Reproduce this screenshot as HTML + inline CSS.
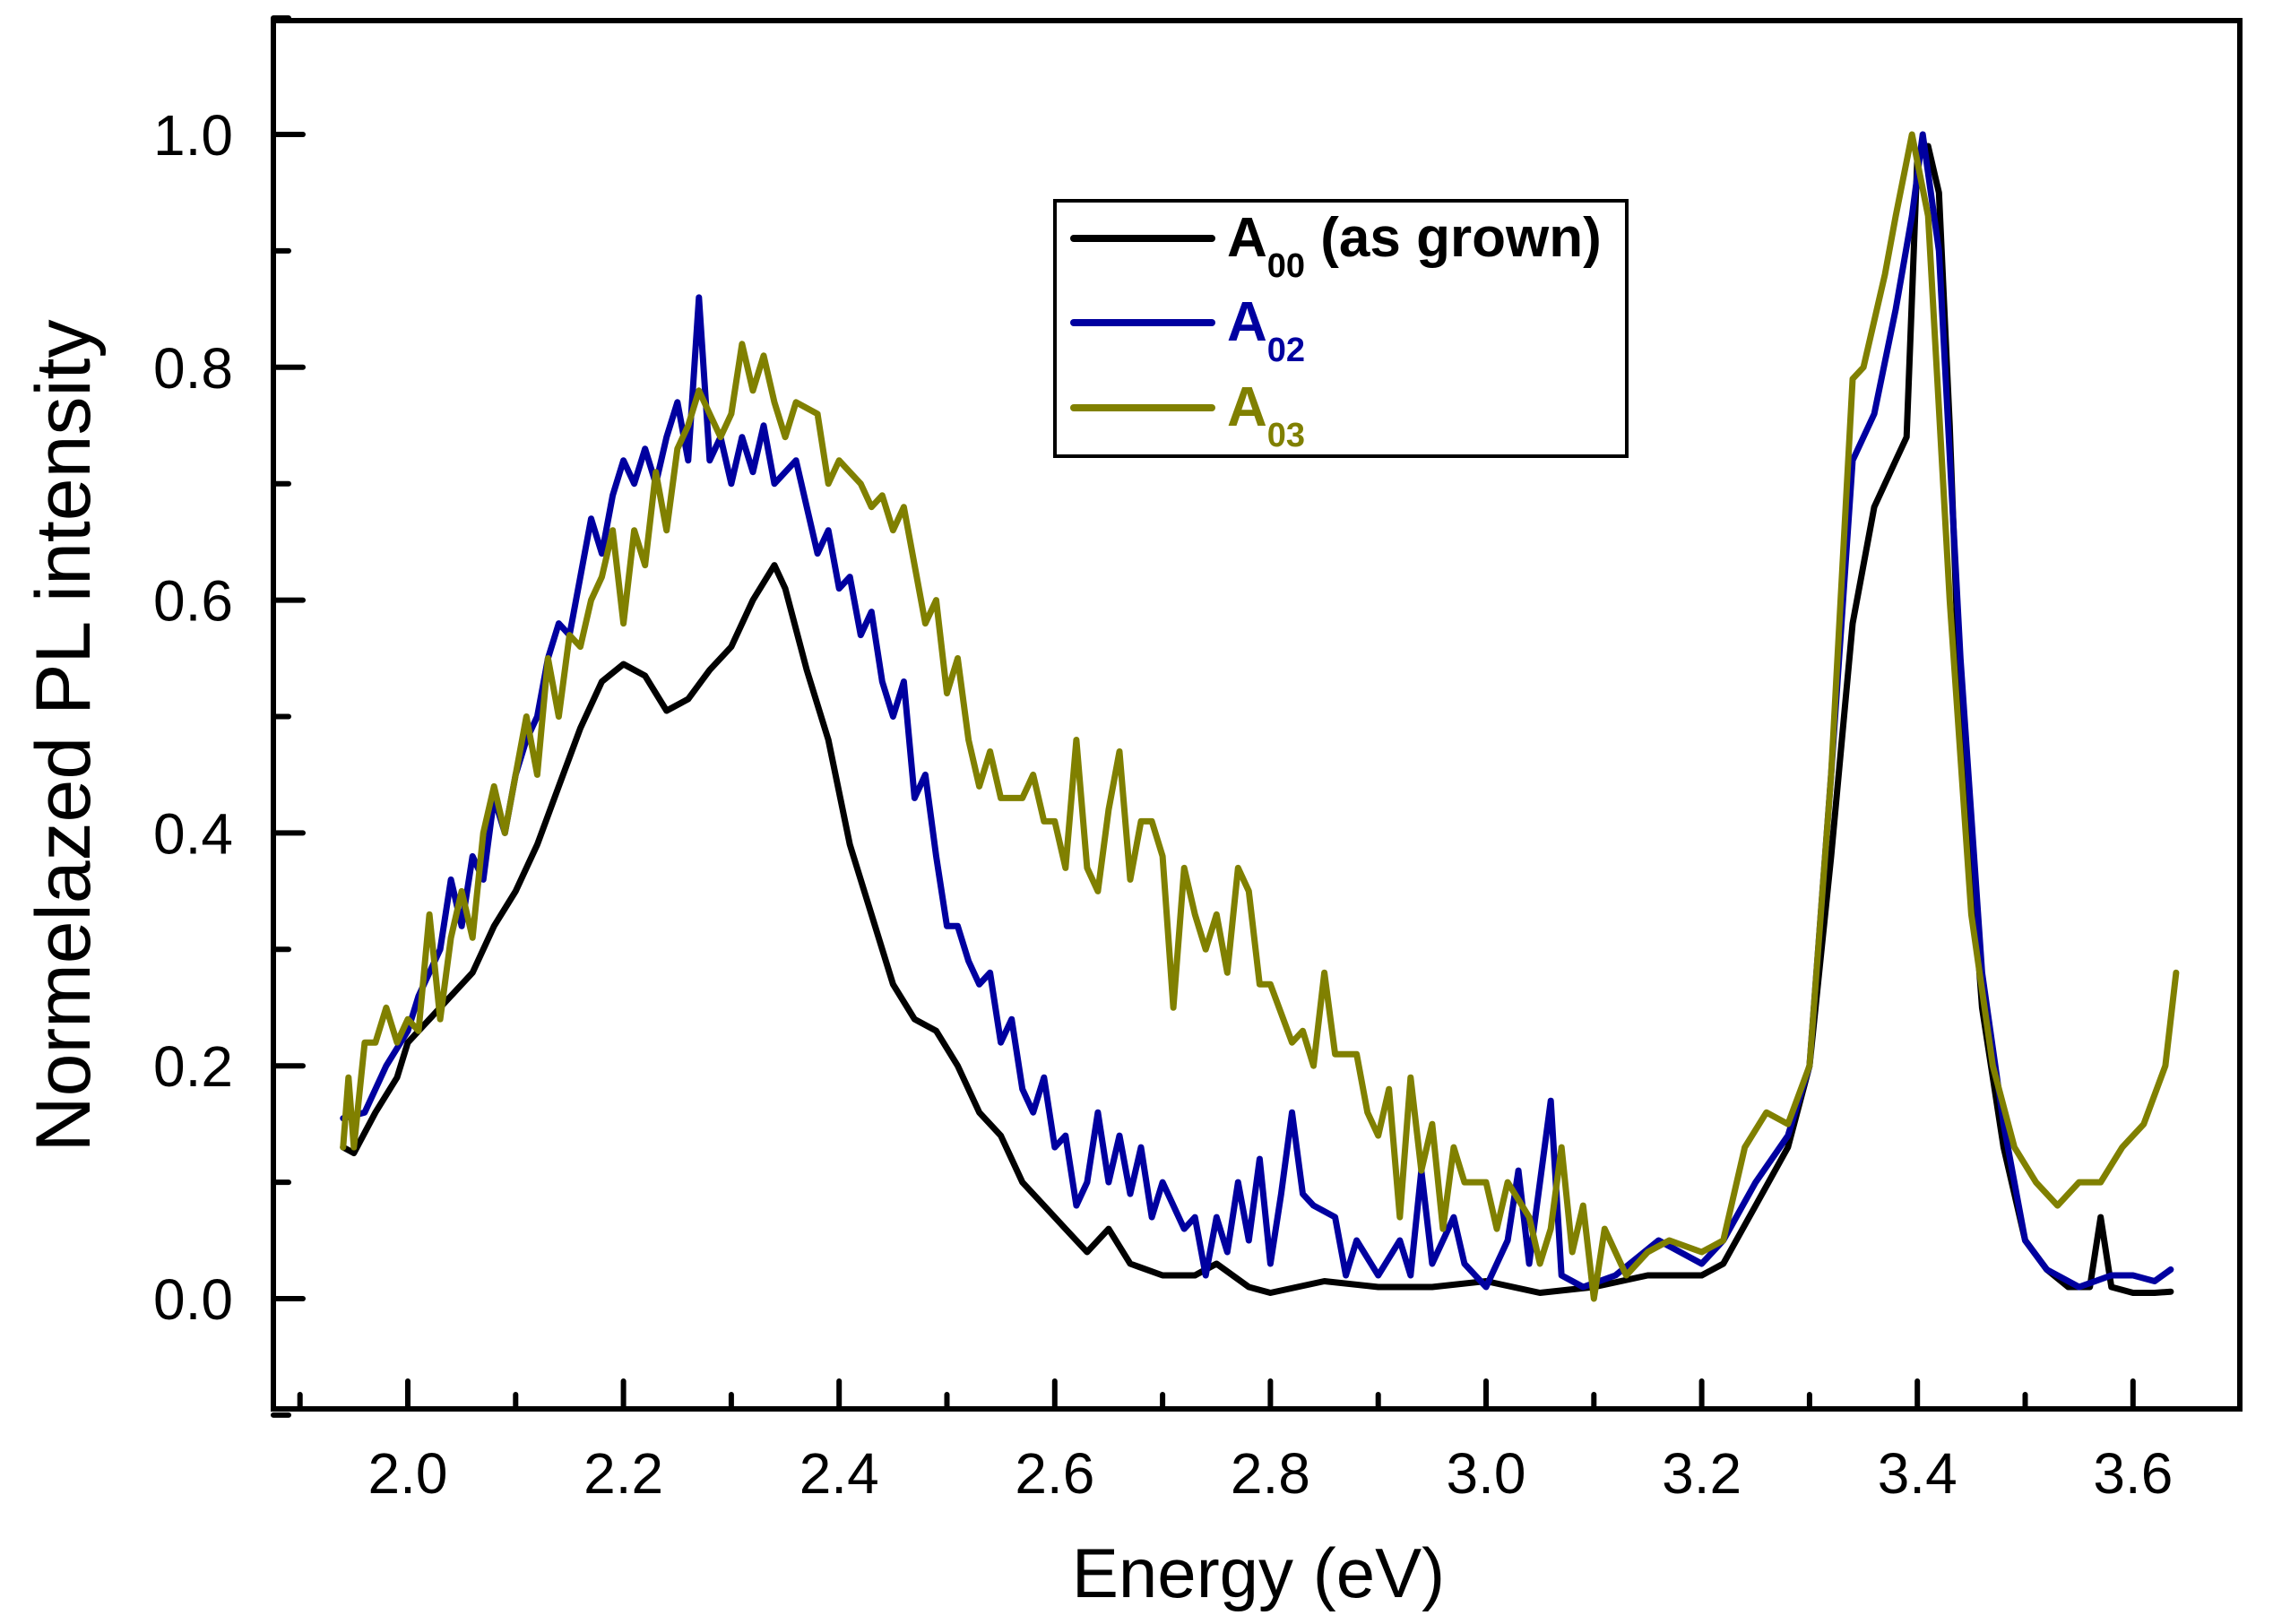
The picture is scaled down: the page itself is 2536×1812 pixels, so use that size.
<!DOCTYPE html>
<html><head><meta charset="utf-8"><style>
html,body{margin:0;padding:0;background:#fff;}
svg{display:block;font-family:"Liberation Sans",Arial,sans-serif;}
</style></head><body>
<svg id="chart" width="2536" height="1812" viewBox="0 0 2536 1812" xmlns="http://www.w3.org/2000/svg">
<rect width="2536" height="1812" fill="#fff"/>
<g id="series"></g>
<rect x="305" y="23" width="2194" height="1549" fill="none" stroke="#000" stroke-width="6"/>
<g id="axes"></g>
<text x="1404" y="1782" font-size="78" text-anchor="middle">Energy (eV)</text>
<text transform="translate(100,821) rotate(-90)" font-size="86" text-anchor="middle">Normelazed PL intensity</text>
<g>
<rect x="1177" y="224" width="638" height="285" fill="#fff" stroke="#000" stroke-width="4"/>
<line x1="1198" y1="266" x2="1352" y2="266" stroke="#000" stroke-width="8" stroke-linecap="round"/>
<text x="1369" y="286" font-size="62" font-weight="bold" fill="#000">A<tspan font-size="38" dy="23">00</tspan><tspan dy="-23"> (as grown)</tspan></text>
<line x1="1198" y1="360" x2="1352" y2="360" stroke="#0000a0" stroke-width="8" stroke-linecap="round"/>
<text x="1369" y="380" font-size="62" font-weight="bold" fill="#0000a0">A<tspan font-size="38" dy="23">02</tspan></text>
<line x1="1198" y1="455" x2="1352" y2="455" stroke="#808000" stroke-width="8" stroke-linecap="round"/>
<text x="1369" y="475" font-size="62" font-weight="bold" fill="#808000">A<tspan font-size="38" dy="23">03</tspan></text>
</g>
</svg>
<script>
const xTicks = [2.0,2.2,2.4,2.6,2.8,3.0,3.2,3.4,3.6];
const xTickLabels = ["2.0","2.2","2.4","2.6","2.8","3.0","3.2","3.4","3.6"];
const xMinorTicks = [1.9,2.1,2.3,2.5,2.7,2.9,3.1,3.3,3.5];
const yTicks = [0,0.2,0.4,0.6,0.8,1.0];
const yTickLabels = ["0.0","0.2","0.4","0.6","0.8","1.0"];
const yMinorTicks = [-0.1,0.1,0.3,0.5,0.7,0.9,1.1];
const a00E = [1.94,1.95,1.97,1.99,2.0,2.02,2.04,2.06,2.08,2.1,2.12,2.14,2.16,2.18,2.2,2.22,2.24,2.26,2.28,2.3,2.32,2.34,2.35,2.37,2.39,2.41,2.43,2.45,2.47,2.49,2.51,2.53,2.55,2.57,2.59,2.61,2.63,2.65,2.67,2.7,2.73,2.75,2.78,2.8,2.85,2.9,2.95,3.0,3.05,3.1,3.15,3.2,3.22,3.25,3.28,3.3,3.32,3.34,3.36,3.38,3.39,3.4,3.41,3.42,3.43,3.44,3.46,3.48,3.5,3.52,3.54,3.56,3.57,3.58,3.6,3.62,3.635];
const a00I = [0.13,0.125,0.16,0.19,0.22,0.24,0.26,0.28,0.32,0.35,0.39,0.44,0.49,0.53,0.545,0.535,0.505,0.515,0.54,0.56,0.6,0.63,0.61,0.54,0.48,0.39,0.33,0.27,0.24,0.23,0.2,0.16,0.14,0.1,0.08,0.06,0.04,0.06,0.03,0.02,0.02,0.03,0.01,0.005,0.015,0.01,0.01,0.015,0.005,0.01,0.02,0.02,0.03,0.08,0.13,0.2,0.38,0.58,0.68,0.72,0.74,0.98,0.99,0.95,0.75,0.5,0.25,0.13,0.05,0.025,0.01,0.01,0.07,0.01,0.005,0.005,0.006];
const a02E = [1.94,1.96,1.98,2.0,2.01,2.03,2.04,2.05,2.06,2.07,2.08,2.09,2.1,2.11,2.12,2.13,2.14,2.15,2.16,2.17,2.18,2.19,2.2,2.21,2.22,2.23,2.24,2.25,2.26,2.27,2.28,2.29,2.3,2.31,2.32,2.33,2.34,2.36,2.37,2.38,2.39,2.4,2.41,2.42,2.43,2.44,2.45,2.46,2.47,2.48,2.49,2.5,2.51,2.52,2.53,2.54,2.55,2.56,2.57,2.58,2.59,2.6,2.61,2.62,2.63,2.64,2.65,2.66,2.67,2.68,2.69,2.7,2.72,2.73,2.74,2.75,2.76,2.77,2.78,2.79,2.8,2.81,2.82,2.83,2.84,2.86,2.87,2.88,2.9,2.92,2.93,2.94,2.95,2.97,2.98,3.0,3.02,3.03,3.04,3.06,3.07,3.09,3.12,3.16,3.2,3.22,3.25,3.28,3.3,3.32,3.34,3.36,3.38,3.395,3.405,3.42,3.44,3.46,3.48,3.5,3.52,3.55,3.58,3.6,3.62,3.635];
const a02I = [0.155,0.16,0.2,0.23,0.26,0.3,0.36,0.32,0.38,0.36,0.43,0.4,0.45,0.48,0.5,0.55,0.58,0.57,0.62,0.67,0.64,0.69,0.72,0.7,0.73,0.7,0.74,0.77,0.72,0.86,0.72,0.74,0.7,0.74,0.71,0.75,0.7,0.72,0.68,0.64,0.66,0.61,0.62,0.57,0.59,0.53,0.5,0.53,0.43,0.45,0.38,0.32,0.32,0.29,0.27,0.28,0.22,0.24,0.18,0.16,0.19,0.13,0.14,0.08,0.1,0.16,0.1,0.14,0.09,0.13,0.07,0.1,0.06,0.07,0.02,0.07,0.04,0.1,0.05,0.12,0.03,0.09,0.16,0.09,0.08,0.07,0.02,0.05,0.02,0.05,0.02,0.11,0.03,0.07,0.03,0.01,0.05,0.11,0.03,0.17,0.02,0.01,0.02,0.05,0.03,0.05,0.1,0.14,0.2,0.45,0.72,0.76,0.85,0.93,1.0,0.9,0.55,0.28,0.15,0.05,0.025,0.01,0.02,0.02,0.015,0.025];
const a03E = [1.94,1.945,1.95,1.96,1.97,1.98,1.99,2.0,2.01,2.02,2.03,2.04,2.05,2.06,2.07,2.08,2.09,2.1,2.11,2.12,2.13,2.14,2.15,2.16,2.17,2.18,2.19,2.2,2.21,2.22,2.23,2.24,2.25,2.26,2.27,2.28,2.29,2.3,2.31,2.32,2.33,2.34,2.35,2.36,2.38,2.39,2.4,2.41,2.42,2.43,2.44,2.45,2.46,2.47,2.48,2.49,2.5,2.51,2.52,2.53,2.54,2.55,2.57,2.58,2.59,2.6,2.61,2.62,2.63,2.64,2.65,2.66,2.67,2.68,2.69,2.7,2.71,2.72,2.73,2.74,2.75,2.76,2.77,2.78,2.79,2.8,2.82,2.83,2.84,2.85,2.86,2.88,2.89,2.9,2.91,2.92,2.93,2.94,2.95,2.96,2.97,2.98,3.0,3.01,3.02,3.04,3.05,3.06,3.07,3.08,3.09,3.1,3.11,3.13,3.15,3.17,3.2,3.22,3.24,3.26,3.28,3.3,3.32,3.34,3.35,3.37,3.38,3.395,3.41,3.43,3.45,3.47,3.49,3.51,3.53,3.54,3.55,3.57,3.59,3.61,3.63,3.64];
const a03I = [0.13,0.19,0.13,0.22,0.22,0.25,0.22,0.24,0.23,0.33,0.24,0.31,0.35,0.31,0.4,0.44,0.4,0.45,0.5,0.45,0.55,0.5,0.57,0.56,0.6,0.62,0.66,0.58,0.66,0.63,0.71,0.66,0.73,0.75,0.78,0.76,0.74,0.76,0.82,0.78,0.81,0.77,0.74,0.77,0.76,0.7,0.72,0.71,0.7,0.68,0.69,0.66,0.68,0.63,0.58,0.6,0.52,0.55,0.48,0.44,0.47,0.43,0.43,0.45,0.41,0.41,0.37,0.48,0.37,0.35,0.42,0.47,0.36,0.41,0.41,0.38,0.25,0.37,0.33,0.3,0.33,0.28,0.37,0.35,0.27,0.27,0.22,0.23,0.2,0.28,0.21,0.21,0.16,0.14,0.18,0.07,0.19,0.11,0.15,0.06,0.13,0.1,0.1,0.06,0.1,0.07,0.03,0.06,0.13,0.04,0.08,0.0,0.06,0.02,0.04,0.05,0.04,0.05,0.13,0.16,0.15,0.2,0.45,0.79,0.8,0.88,0.93,1.0,0.93,0.6,0.33,0.2,0.13,0.1,0.08,0.09,0.1,0.1,0.13,0.15,0.2,0.28];

const NS = "http://www.w3.org/2000/svg";
const X0 = 455, XS = 1203, Y0 = 1449, YS = 1299;
function xScale(e){ return X0 + (e - 2) * XS; }
function yScale(v){ return Y0 - v * YS; }
const axes = document.getElementById('axes');
const seriesG = document.getElementById('series');
function mk(tag, attrs){ const el = document.createElementNS(NS, tag); for (const k in attrs) el.setAttribute(k, attrs[k]); return el; }

xTicks.forEach((t,i)=>{
  const x = xScale(t);
  const tk = mk('line',{x1:x,y1:1572,x2:x,y2:1541,stroke:'#000','stroke-width':6,'stroke-linecap':'round'});
  
  
  axes.appendChild(tk);
  const lb = mk('text',{x:x,y:1666,'font-size':64,'text-anchor':'middle'});
  lb.textContent = xTickLabels[i];
  
  
  axes.appendChild(lb);
});
xMinorTicks.forEach(t=>{
  const x = xScale(t);
  const tk = mk('line',{x1:x,y1:1572,x2:x,y2:1556,stroke:'#000','stroke-width':6,'stroke-linecap':'round'});
  
  
  axes.appendChild(tk);
});
yTicks.forEach((t,i)=>{
  const y = yScale(t);
  const tk = mk('line',{x1:305,y1:y,x2:338,y2:y,stroke:'#000','stroke-width':6,'stroke-linecap':'round'});
  
  
  axes.appendChild(tk);
  const lb = mk('text',{x:260,y:y+23,'font-size':64,'text-anchor':'end'});
  lb.textContent = yTickLabels[i];
  
  
  axes.appendChild(lb);
});
yMinorTicks.forEach(t=>{
  const y = yScale(t);
  const tk = mk('line',{x1:305,y1:y,x2:322,y2:y,stroke:'#000','stroke-width':6,'stroke-linecap':'round'});
  
  
  axes.appendChild(tk);
});
function drawSeries(E, I, color, name){
  const d = E.map((e,i)=> (i?'L':'M') + xScale(e).toFixed(1) + ',' + yScale(I[i]).toFixed(1)).join(' ');
  const p = mk('path',{d:d,fill:'none',stroke:color,'stroke-width':7,'stroke-linejoin':'round','stroke-linecap':'round'});
  
  
  seriesG.appendChild(p);
}
drawSeries(a00E, a00I, '#000000', 'series-a00-line');
drawSeries(a02E, a02I, '#0000a0', 'series-a02-line');
drawSeries(a03E, a03I, '#808000', 'series-a03-line');
</script>
</body></html>
